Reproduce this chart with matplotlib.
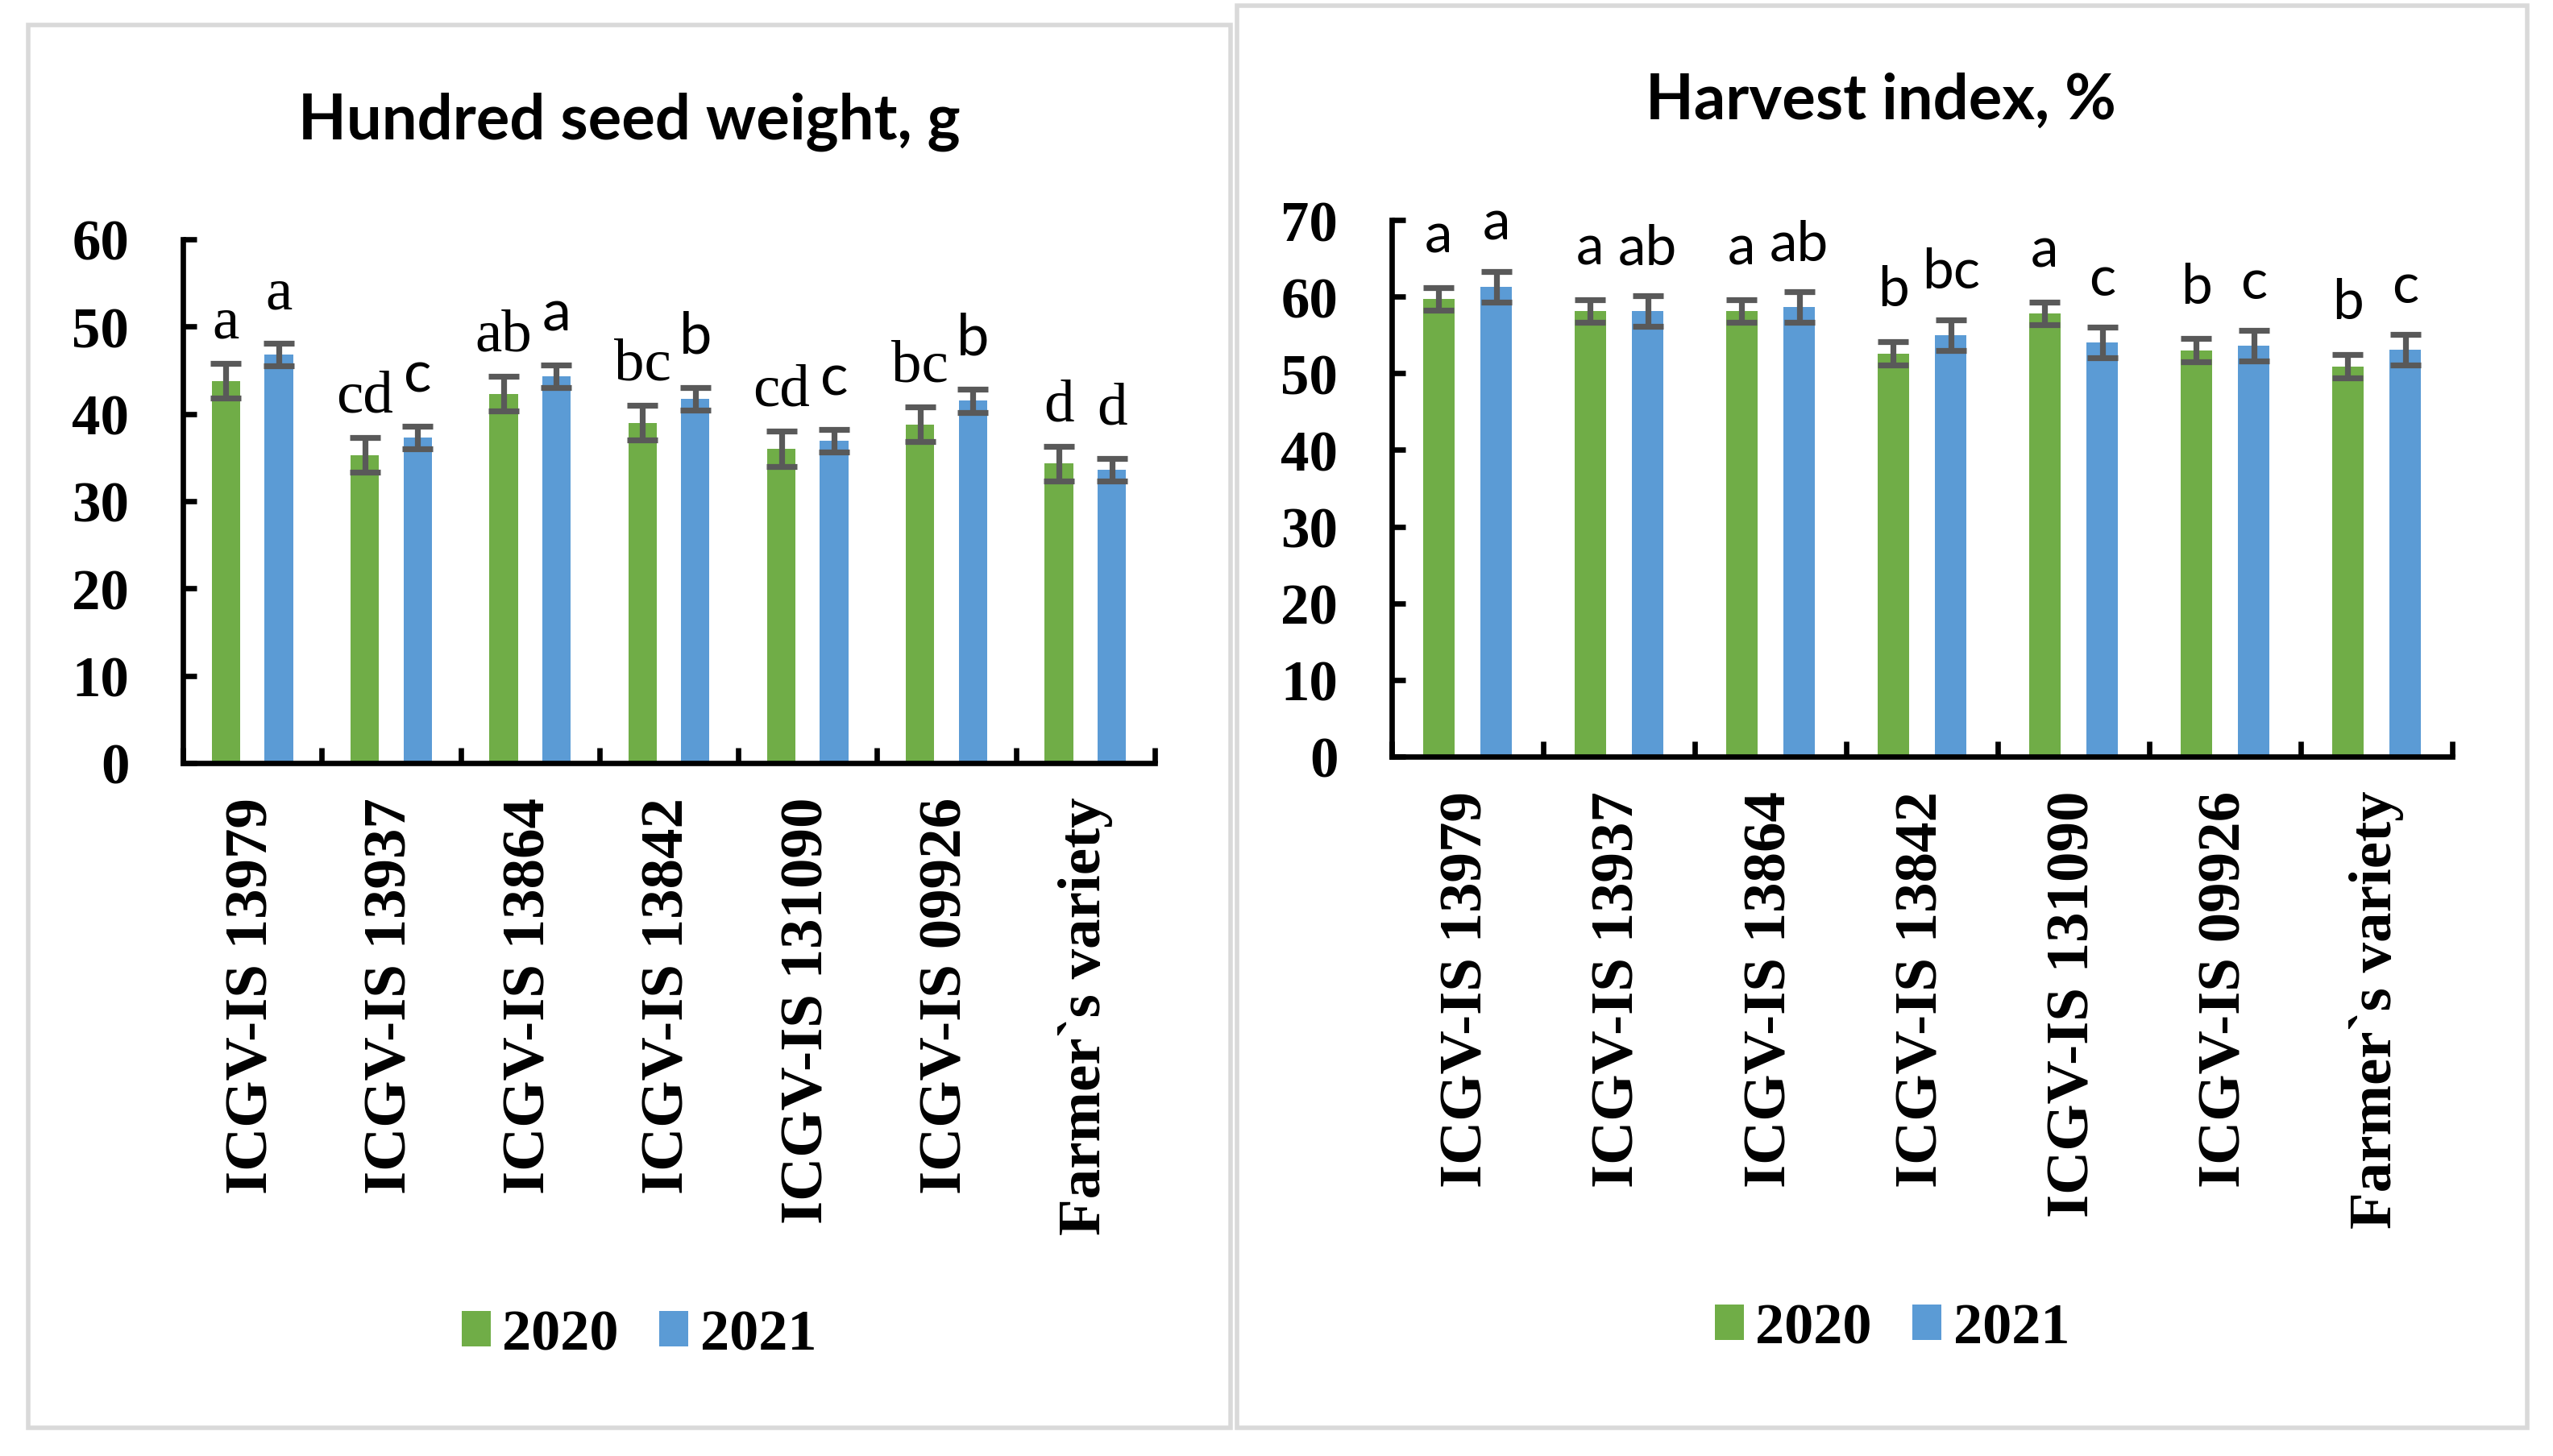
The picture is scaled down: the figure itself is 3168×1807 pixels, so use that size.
import matplotlib
matplotlib.use("Agg")
import matplotlib.pyplot as plt
from matplotlib.patches import Rectangle
import numpy as np

# ---------------- data ----------------
categories = ["ICGV-IS 13979", "ICGV-IS 13937", "ICGV-IS 13864", "ICGV-IS 13842",
              "ICGV-IS 131090", "ICGV-IS 09926", "Farmer`s variety"]
years = ["2020", "2021"]

hsw_2020 = [43.8, 35.3, 42.3, 39.0, 36.0, 38.8, 34.3]
hsw_2021 = [46.8, 37.3, 44.3, 41.7, 36.9, 41.5, 33.6]
hsw_err_2020 = [2.0, 2.0, 2.0, 2.0, 2.0, 2.0, 2.0]
hsw_err_2021 = [1.3, 1.3, 1.3, 1.3, 1.3, 1.35, 1.3]
hsw_letters_2020 = ["a", "cd", "ab", "bc", "cd", "bc", "d"]
hsw_letters_2021 = ["a", "c", "a", "b", "c", "b", "d"]

hi_2020 = [59.7, 58.1, 58.1, 52.6, 57.8, 53.0, 50.9]
hi_2021 = [61.3, 58.1, 58.6, 55.0, 54.0, 53.6, 53.1]
hi_err_2020 = [1.5, 1.5, 1.5, 1.55, 1.5, 1.5, 1.55]
hi_err_2021 = [2.0, 2.0, 2.0, 2.0, 2.0, 2.0, 2.0]
hi_letters_2020 = ["a", "a", "a", "b", "a", "b", "b"]
hi_letters_2021 = ["a", "ab", "ab", "bc", "c", "c", "c"]

# ---------------- style ----------------
GREEN = "#70AD47"
BLUE = "#5B9BD5"
ERR = "#595959"
SERIF = "Liberation Serif"
SANS = "Lato"

W, H = 3168, 1808
fig = plt.figure(figsize=(W / 200, H / 200), dpi=200)
fig.patch.set_facecolor("white")


def fx(px):
    return px / W


def fy(py):
    return 1 - py / H


# panel boxes
for (x0, y0, x1, y1) in [(35, 32, 1527, 1773), (1535, 8, 3136, 1773)]:
    fig.add_artist(Rectangle((fx(x0), fy(y1)), fx(x1 - x0), (y1 - y0) / H,
                             transform=fig.transFigure, fill=False,
                             edgecolor="#d9d9d9", lw=2.0))


def panel(rect, v20, v21, e20, e21, l20, l21, ymax, pad20, pad21,
          fam20, fam21, lsize20, lsize21, title, title_xy, legend_xy):
    ax = fig.add_axes(rect)
    x = np.arange(len(categories))
    off, bw = 0.19, 0.205
    ax.bar(x - off, v20, bw, color=GREEN, label=years[0], zorder=2)
    ax.bar(x + off, v21, bw, color=BLUE, label=years[1], zorder=2)
    for xs, vs, es in [(x - off, v20, e20), (x + off, v21, e21)]:
        ax.errorbar(xs, vs, yerr=es, fmt="none", ecolor=ERR, elinewidth=2.6,
                    capsize=7.0, capthick=2.6, zorder=3)
    for i in range(len(categories)):
        ax.text(x[i] - off, v20[i] + e20[i] + pad20, l20[i], ha="center",
                va="baseline", fontsize=lsize20 if fam20[i] == SERIF else lsize21,
                family=fam20[i], clip_on=False)
        ax.text(x[i] + off, v21[i] + e21[i] + pad21, l21[i], ha="center",
                va="baseline", fontsize=lsize20 if fam21[i] == SERIF else lsize21,
                family=fam21[i], clip_on=False)
    ax.set_xlim(-0.5, len(categories) - 0.5)
    ax.set_ylim(0, ymax)
    for s in ["top", "right"]:
        ax.spines[s].set_visible(False)
    for s in ["left", "bottom"]:
        ax.spines[s].set_linewidth(2.4)
        ax.spines[s].set_color("black")
    ax.set_xticks(np.arange(-0.5, len(categories), 1))
    ax.set_xticklabels([])
    ax.set_xticks(x, minor=True)
    ax.set_xticklabels(categories, minor=True, rotation=90, family=SERIF,
                       fontweight="bold", fontsize=27)
    ax.tick_params(axis="x", which="major", direction="in", length=7, width=2.4)
    ax.tick_params(axis="x", which="minor", length=0, pad=15)
    ax.set_yticks(np.arange(0, ymax + 1, 10))
    ax.set_yticklabels([str(int(t)) for t in np.arange(0, ymax + 1, 10)],
                       family=SERIF, fontweight="bold", fontsize=25.5)
    ax.tick_params(axis="y", direction="in", length=6, width=2.4, pad=24)
    ax.set_facecolor("white")
    fig.text(fx(title_xy[0]), fy(title_xy[1]), title, ha="center", va="baseline",
             family=SANS, fontweight="bold", fontsize=28)
    ax.legend(loc="center", bbox_to_anchor=(fx(legend_xy[0]), fy(legend_xy[1])),
              bbox_transform=fig.transFigure, ncol=2, frameon=False,
              prop={"family": SERIF, "weight": "bold", "size": 26},
              handlelength=0.5, handleheight=0.55, handletextpad=0.2,
              columnspacing=0.7)
    return ax


left_fam20 = [SERIF] * 7
left_fam21 = [SERIF, SANS, SANS, SANS, SANS, SANS, SERIF]
panel([fx(227), fy(948), fx(1433 - 227), (948 - 298) / H],
      hsw_2020, hsw_2021, hsw_err_2020, hsw_err_2021,
      hsw_letters_2020, hsw_letters_2021, 60, 3.0, 4.0,
      left_fam20, left_fam21, 27, 26,
      "Hundred seed weight, g", (781, 173), (793, 1658))

panel([fx(1727), fy(940), fx(3043 - 1727), (940 - 274) / H],
      hi_2020, hi_2021, hi_err_2020, hi_err_2021,
      hi_letters_2020, hi_letters_2021, 70, 4.7, 4.2,
      [SANS] * 7, [SANS] * 7, 25, 25,
      "Harvest index, %", (2334, 148), (2348, 1650))

fig.savefig("out.png", dpi=200, facecolor="white")
